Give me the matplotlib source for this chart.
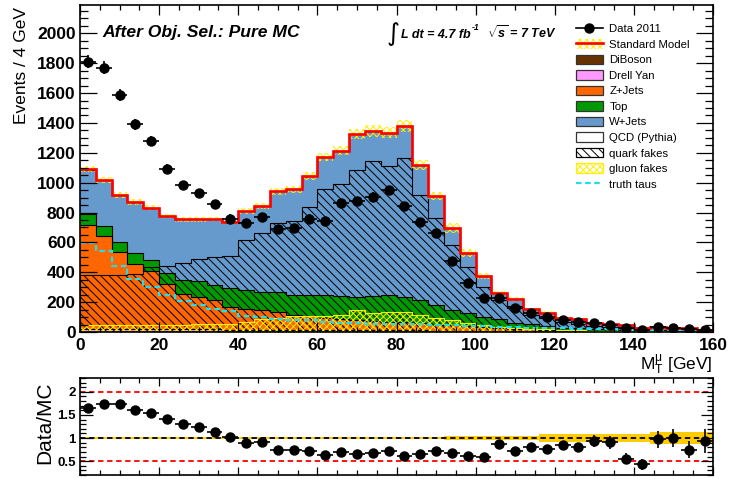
import numpy as np
import matplotlib
matplotlib.use('Agg')
import matplotlib.pyplot as plt
from matplotlib.patches import Patch
from matplotlib.lines import Line2D
from matplotlib.ticker import MultipleLocator

plt.rcParams['font.family'] = 'Liberation Sans'
plt.rcParams['mathtext.fontset'] = 'custom'
plt.rcParams['mathtext.rm'] = 'Liberation Sans:bold:italic'
plt.rcParams['mathtext.it'] = 'Liberation Sans:bold:italic'
plt.rcParams['mathtext.bf'] = 'Liberation Sans:bold:italic'
plt.rcParams['hatch.linewidth'] = 0.7

#%% histograms, 4 GeV bins from 0 to 160
bin_edges = np.arange(0, 164, 4)

data_counts = [1810, 1770, 1590, 1390, 1280, 1095, 983, 928, 856, 760,
               731, 769, 691, 698, 760, 744, 861, 876, 905, 950,
               843, 738, 664, 477, 326, 225, 229, 158, 125, 98,
               80, 69, 58, 47, 25, 13, 31, 25, 18, 13]

diboson = [3, 3, 4, 4, 4, 5, 5, 5, 6, 6, 6, 7, 7, 7, 7, 8, 8, 8, 8, 8,
           7, 7, 6, 6, 5, 5, 4, 4, 3, 3, 3, 2, 2, 2, 2, 1, 1, 1, 1, 1]
drell_yan = [18, 18, 17, 16, 15, 14, 13, 12, 11, 10, 9, 8, 8, 7, 7, 6, 6, 5, 5, 5,
             4, 4, 3, 3, 3, 2, 2, 2, 2, 1, 1, 1, 1, 1, 1, 1, 0, 0, 0, 0]
zjets = [695, 621, 512, 433, 389, 301, 234, 219, 197, 153,
         137, 135, 120, 101, 91, 81, 74, 67, 62, 57,
         54, 47, 41, 35, 30, 25, 21, 17, 14, 12,
         9, 8, 6, 5, 4, 3, 4, 3, 2, 2]
top = [71, 69, 67, 73, 72, 72, 98, 104, 101, 126,
       126, 120, 130, 135, 143, 152, 150, 154, 165, 175,
       171, 156, 131, 103, 87, 70, 58, 39, 35, 24,
       17, 14, 11, 9, 7, 6, 4, 3, 3, 2]
wjets = [301, 305, 316, 342, 350, 383, 404, 414, 441, 442,
         532, 576, 677, 705, 798, 925, 977, 1091, 1105, 1091,
         1144, 903, 732, 548, 407, 273, 175, 160, 99, 88,
         65, 61, 42, 35, 31, 19, 23, 18, 18, 9]
qcd = [4, 3, 2, 2, 1, 1, 1, 1, 1, 1, 0, 0, 0, 0, 0, 0, 0, 0, 0, 0,
       0, 0, 0, 0, 0, 0, 0, 0, 0, 0, 0, 0, 0, 0, 0, 0, 0, 0, 0, 0]

quark_fakes = [385, 385, 385, 390, 435, 441, 460, 488, 504, 508,
               615, 660, 731, 742, 838, 956, 994, 1084, 1144, 1112,
               1162, 916, 765, 582, 435, 299, 214, 174, 114, 92,
               69, 54, 40, 32, 25, 18, 14, 11, 8, 6]
gluon_fakes = [50, 50, 50, 50, 50, 50, 50, 52, 54, 56,
               65, 90, 95, 110, 110, 110, 115, 145, 125, 135,
               135, 115, 95, 80, 60, 45, 35, 28, 22, 18,
               15, 12, 10, 8, 6, 5, 4, 3, 3, 2]
truth_taus = [597, 544, 444, 354, 303, 245, 205, 183, 152, 138,
              107, 98, 85, 80, 78, 69, 62, 58, 56, 55,
              55, 52, 48, 44, 40, 37, 34, 31, 28, 26,
              24, 22, 20, 18, 16, 14, 13, 12, 11, 10]

# relative MC uncertainty per bin
mc_rel_err = [0.02, 0.02, 0.02, 0.02, 0.02, 0.02, 0.02, 0.02, 0.02, 0.02,
              0.025, 0.025, 0.025, 0.025, 0.025, 0.025, 0.025, 0.025, 0.03, 0.03,
              0.03, 0.03, 0.03, 0.05, 0.05, 0.05, 0.05, 0.05, 0.05, 0.08,
              0.08, 0.08, 0.08, 0.08, 0.08, 0.08, 0.13, 0.13, 0.13, 0.13]

stack = [(diboson, '#663300', 'DiBoson'),
         (drell_yan, '#FF99FF', 'Drell Yan'),
         (zjets, '#FF6600', 'Z+Jets'),
         (top, '#009900', 'Top'),
         (wjets, '#6699CC', 'W+Jets'),
         (qcd, 'white', 'QCD (Pythia)')]

centers = 0.5 * (bin_edges[:-1] + bin_edges[1:])
half_w = 0.5 * np.diff(bin_edges)
data = np.array(data_counts, dtype=float)
total = np.sum([np.array(s[0], dtype=float) for s in stack], axis=0)
err = np.array(mc_rel_err)

QUARK_HATCH = '\\\\\\\\'
GLUON_HATCH = 'xxxxx'
YELLOW = '#FFEE00'
CYAN = '#22DDEE'

W, H = 729, 479
fig = plt.figure(figsize=(W / 100, H / 100), dpi=100)
ax = fig.add_axes([80 / W, 1 - 332 / H, 633 / W, 327 / H])
ax2 = fig.add_axes([80 / W, 4 / H, 633 / W, 97 / H])

#%% main panel
bottom = np.zeros(len(centers))
tops = []
for vals, col, name in stack:
    upper = bottom + np.array(vals)
    ax.stairs(upper, bin_edges, baseline=bottom, fill=True, facecolor=col,
              edgecolor='none', zorder=0.5)
    tops.append(upper)
    bottom = upper
for upper in tops:
    ax.stairs(upper, bin_edges, baseline=None, color='black', lw=0.8, zorder=0.6)

ax.stairs(quark_fakes, bin_edges, fill=True, facecolor='none', edgecolor='black',
          hatch=QUARK_HATCH, lw=0.8, zorder=0.7)
ax.stairs(gluon_fakes, bin_edges, fill=True, facecolor='none', edgecolor=YELLOW,
          hatch=GLUON_HATCH, lw=0.8, zorder=0.8)
ax.stairs(truth_taus, bin_edges, baseline=None, color=CYAN, lw=1.6,
          ls=(0, (2.5, 1.6)), zorder=0.9)
ax.stairs(total * (1 + err), bin_edges, baseline=total * (1 - err), fill=True,
          facecolor='none', edgecolor=YELLOW, hatch=GLUON_HATCH, lw=0, zorder=1.0)
ax.stairs(total, bin_edges, baseline=None, color='red', lw=1.9, zorder=1.1)
ax.errorbar(centers, data, xerr=half_w, yerr=np.sqrt(data), fmt='o', color='black',
            ms=6.5, elinewidth=1.2, capsize=0, zorder=3)

ax.set_xlim(0, 160)
ax.set_ylim(0, 2190)
ax.xaxis.set_major_locator(MultipleLocator(20))
ax.xaxis.set_minor_locator(MultipleLocator(5))
ax.yaxis.set_major_locator(MultipleLocator(200))
ax.yaxis.set_minor_locator(MultipleLocator(50))
ax.tick_params(which='both', direction='in', top=True, right=True, width=0.9)
ax.tick_params(axis='y', which='major', length=12, labelsize=12.5, pad=3)
ax.tick_params(axis='y', which='minor', length=6)
ax.tick_params(axis='x', which='major', length=7, labelsize=12.5, pad=4)
ax.tick_params(axis='x', which='minor', length=3.6)
for lab in ax.get_xticklabels() + ax.get_yticklabels():
    lab.set_fontweight('bold')
for sp in ax.spines.values():
    sp.set_linewidth(1.2)

handles = [Line2D([], [], color='black', marker='o', ms=6.5, lw=1.2),
           (Patch(facecolor='none', edgecolor=YELLOW, hatch=GLUON_HATCH, lw=0),
            Line2D([], [], color='red', lw=1.9))]
labels = ['Data 2011', 'Standard Model']
for vals, col, name in stack:
    handles.append(Patch(facecolor=col, edgecolor='#333333', lw=0.9))
    labels.append(name)
handles += [Patch(facecolor='white', edgecolor='black', hatch=QUARK_HATCH, lw=0.9),
            Patch(facecolor='none', edgecolor=YELLOW, hatch=GLUON_HATCH, lw=0.9),
            Line2D([], [], color=CYAN, lw=1.6, ls=(0, (2.5, 1.6)))]
labels += ['quark fakes', 'gluon fakes', 'truth taus']
ax.legend(handles, labels, loc='upper left',
          bbox_to_anchor=((576 - 80) / 633, (332 - 23.5) / 327),
          frameon=False, fontsize=8.2, borderpad=0, borderaxespad=0, labelspacing=0.43,
          handlelength=2.37, handleheight=0.9, handletextpad=0.55)

def fpos(x, y):
    return x / W, 1 - y / H

fig.text(*fpos(102, 32), 'After Obj. Sel.: Pure MC', fontsize=12.6, fontweight='bold',
         style='italic', ha='left', va='center')
fig.text(*fpos(393, 34), '\u222b', family='DejaVu Sans', fontsize=18, ha='center', va='center')
fig.text(*fpos(401, 37.5), 'L dt = 4.7 fb', fontsize=9, fontweight='bold', style='italic',
         ha='left', va='baseline')
fig.text(*fpos(472, 30), '-1', fontsize=6.3, fontweight='bold', style='italic',
         ha='left', va='baseline')
fig.text(*fpos(487, 37.5), r'$\sqrt{s}$ = 7 TeV', fontsize=9, fontweight='bold',
         style='italic', ha='left', va='baseline')

fig.text(*fpos(22, 7), 'Events / 4 GeV', fontsize=12.5, rotation=90, ha='center', va='top')
fig.text(*fpos(713, 365), r'$\mathregular{M_T^{\mu}}$ [GeV]', fontsize=12.5, ha='right', va='center')

#%% ratio panel
ratio = data / total
ratio_err = np.sqrt(data) / total
ax2.stairs(1 + err, bin_edges, baseline=1 - err, fill=True, color='#FFCC00', lw=0, zorder=0.5)
ax2.axhline(1, color='black', ls=(0, (3, 2)), lw=1.3, zorder=1)
ax2.axhline(2, color='red', ls=(0, (3, 2)), lw=1.3, zorder=1)
ax2.axhline(0.5, color='red', ls=(0, (3, 2)), lw=1.3, zorder=1)
ax2.errorbar(centers, ratio, xerr=half_w, yerr=ratio_err, fmt='o', color='black',
             ms=6.5, elinewidth=1.2, capsize=0, zorder=3)
ax2.set_xlim(0, 160)
ax2.set_ylim(0.2, 2.3)
ax2.xaxis.set_major_locator(MultipleLocator(20))
ax2.xaxis.set_minor_locator(MultipleLocator(5))
ax2.yaxis.set_major_locator(MultipleLocator(0.5))
ax2.yaxis.set_minor_locator(MultipleLocator(0.1))
ax2.yaxis.set_major_formatter(plt.FuncFormatter(lambda v, p: '%g' % v))
ax2.tick_params(which='both', direction='in', top=True, right=True, width=0.9)
ax2.tick_params(axis='y', which='major', length=9, labelsize=9.5, pad=3)
ax2.tick_params(axis='y', which='minor', length=4.5)
ax2.tick_params(axis='x', which='major', length=6, labelbottom=False)
ax2.tick_params(axis='x', which='minor', length=3.6)
for lab in ax2.get_yticklabels():
    lab.set_fontweight('bold')
for sp in ax2.spines.values():
    sp.set_linewidth(1.2)
fig.text(*fpos(45, 423), 'Data/MC', fontsize=15, rotation=90, ha='center', va='center')

fig.savefig('out.png', dpi=100)
